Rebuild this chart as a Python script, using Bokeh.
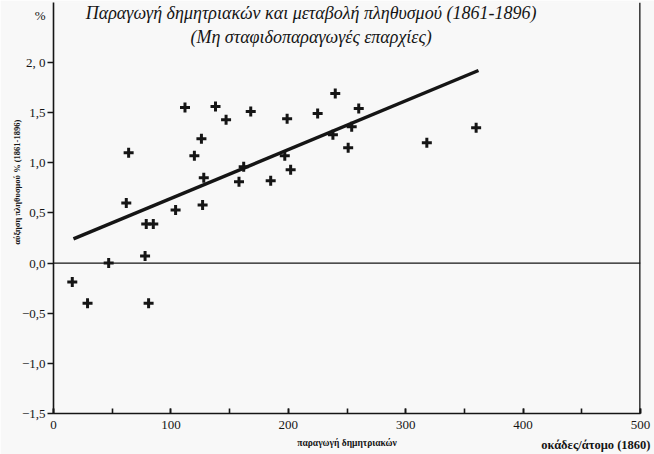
import math
from bokeh.plotting import figure
from bokeh.models import Label, Span, FixedTicker, LinearAxis
from bokeh.embed import file_html
from bokeh.resources import INLINE

# ---- data ----
production = [16, 29, 47, 62, 64, 78, 79, 81, 85, 104,
              112, 120, 126, 127, 128, 138, 147, 158, 162, 168,
              185, 197, 199, 202, 225, 238, 240, 251, 254, 260,
              318, 360]
growth = [-0.19, -0.40, 0.00, 0.60, 1.10, 0.07, 0.39, -0.40, 0.39, 0.53,
          1.55, 1.07, 1.24, 0.58, 0.85, 1.56, 1.43, 0.81, 0.96, 1.51,
          0.82, 1.07, 1.44, 0.93, 1.49, 1.28, 1.69, 1.15, 1.36, 1.54,
          1.20, 1.35]
fit_x = [17, 362]
fit_y = [0.24, 1.92]

x_ticks = [0, 100, 200, 300, 400, 500]
x_tick_labels = ["0", "100", "200", "300", "400", "500"]
x_minor_ticks = [0, 50, 100, 150, 200, 250, 300, 350, 400, 450, 500]
y_ticks = [-1.5, -1.0, -0.5, 0.0, 0.5, 1.0, 1.5, 2.0]
y_tick_labels = ["\u22121,5", "\u22121,0", "\u22120,5", "0,0", "0,5", "1,0", "1,5", "2, 0"]

title_line1 = "Παραγωγή δημητριακών και μεταβολή πληθυσμού (1861-1896)"
title_line2 = "(Μη σταφιδοπαραγωγές επαρχίες)"
y_title = "αύξηση πληθυσμού  % (1861-1896)"
x_title = "παραγωγή δημητριακών"
x_unit = "οκάδες/άτομο (1860)"
y_unit = "%"

# label anchor positions (in data units)
y_unit_pos = 2.47
y_title_pos = 1.45
x_unit_pos = 462
title_x = 219.4
title_y1 = 2.49
title_y2 = 2.25

INK = "#151515"
BG = "#f8f8f8"
SERIF = "Liberation Serif"

p = figure(width=654, height=454, x_range=(0, 500), y_range=(-1.5, 2.598),
           output_backend="svg", toolbar_location=None,
           min_border_left=53, min_border_right=14, min_border_top=2, min_border_bottom=41)
p.outline_line_color = None
p.grid.visible = False
p.background_fill_color = BG
p.border_fill_color = BG

# main x axis
p.xaxis.ticker = FixedTicker(ticks=x_ticks, minor_ticks=x_minor_ticks)
p.xaxis.major_label_overrides = dict(zip(x_ticks, x_tick_labels))
p.xaxis.major_tick_in = 5
p.xaxis.major_tick_out = 0
p.xaxis.minor_tick_in = 5
p.xaxis.minor_tick_out = 0
p.xaxis.major_label_standoff = 7
p.xaxis.axis_label = x_title
p.xaxis.axis_label_text_font = SERIF
p.xaxis.axis_label_text_font_size = "9.5px"
p.xaxis.axis_label_text_font_style = "bold"
p.xaxis.axis_label_text_color = INK
p.xaxis.axis_label_standoff = 6

# main y axis ("%" sits as an extra label at the top, without a tick mark)
y_label_ticks = y_ticks + [y_unit_pos]
p.yaxis.ticker = FixedTicker(ticks=y_label_ticks, minor_ticks=y_ticks)
p.yaxis.major_label_overrides = dict(zip(y_label_ticks, y_tick_labels + [y_unit]))
p.yaxis.major_tick_line_color = None
p.yaxis.major_tick_out = 0
p.yaxis.major_tick_in = 0
p.yaxis.minor_tick_in = 0
p.yaxis.minor_tick_out = 6
p.yaxis.major_label_standoff = 2

for ax in (p.xaxis, p.yaxis):
    ax.axis_line_color = INK
    ax.axis_line_width = 1.6
    ax.minor_tick_line_color = INK
    ax.minor_tick_line_width = 1.6
    ax.major_label_text_font = SERIF
    ax.major_label_text_font_size = "13px"
    ax.major_label_text_color = INK
p.xaxis.major_tick_line_color = INK
p.xaxis.major_tick_line_width = 1.6

# label-only axes (outside the frame)
def text_axis(ticks, labels, size, orientation="horizontal", standoff=2):
    return LinearAxis(ticker=FixedTicker(ticks=ticks, minor_ticks=[]),
                      major_label_overrides=dict(zip(ticks, labels)),
                      axis_line_color=None, major_tick_line_color=None,
                      minor_tick_line_color=None, major_tick_in=0, major_tick_out=0,
                      major_label_standoff=standoff,
                      major_label_orientation=orientation,
                      major_label_text_font=SERIF, major_label_text_font_size=size,
                      major_label_text_font_style="bold", major_label_text_color=INK)

p.add_layout(text_axis([y_title_pos], [y_title], "8.5px", math.pi / 2, 1), "left")
p.add_layout(text_axis([x_unit_pos], [x_unit], "12.5px", "horizontal", -13), "below")

p.add_layout(Span(location=0, dimension="width", line_color=INK, line_width=1.3))
p.add_layout(Span(location=500, dimension="height", line_color=INK, line_width=2.6))

p.line(fit_x, fit_y, line_width=3.5, color=INK)
p.scatter(production, growth, marker="cross", size=10, line_width=3, color=INK)

for ty, txt in ((title_y1, title_line1), (title_y2, title_line2)):
    p.add_layout(Label(x=title_x, y=ty, text=txt, text_font=SERIF, text_font_size="18px",
                       text_font_style="italic", text_align="center", text_baseline="middle",
                       text_color=INK))

open("out.html", "w").write(file_html(p, INLINE))
